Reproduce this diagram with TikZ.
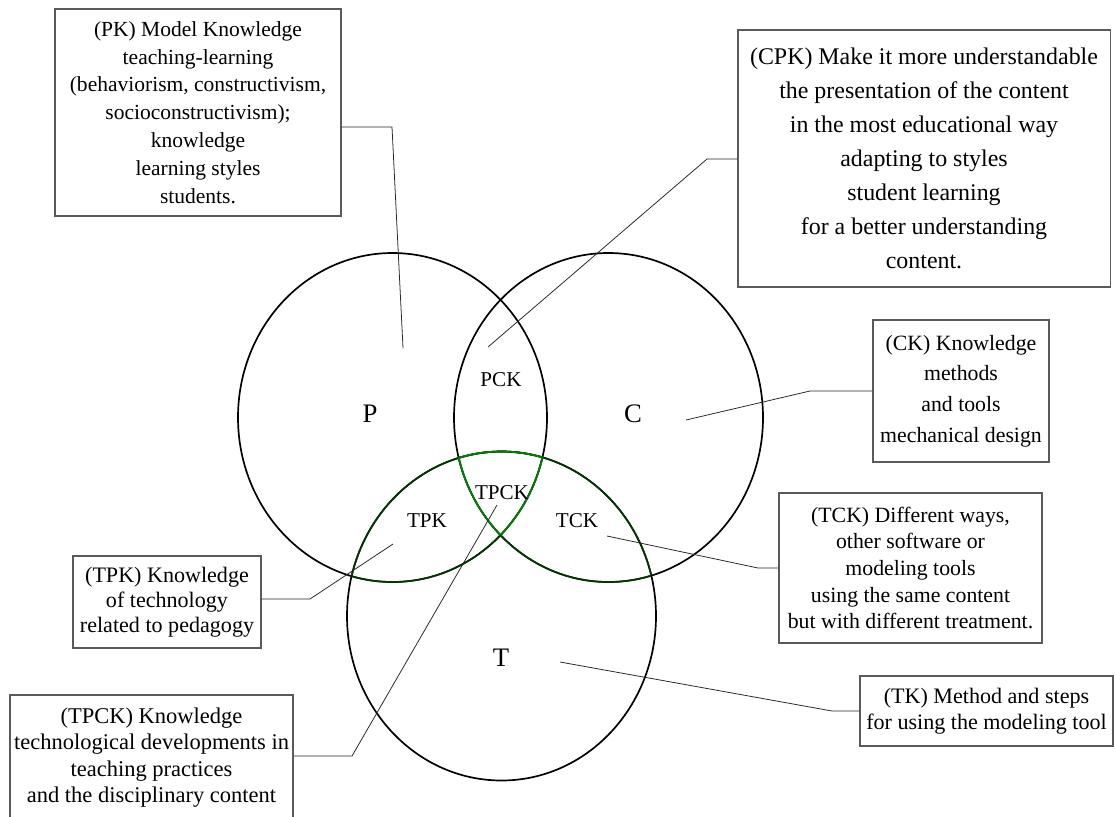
\documentclass[tikz,border=0pt]{standalone}
\usepackage{fontspec}
\setmainfont{Liberation Serif}

\definecolor{boxgray}{RGB}{90,90,90}
\definecolor{tpckgreen}{RGB}{0,128,0}
\definecolor{rimgreen}{RGB}{0,55,0}

\begin{document}
\begin{tikzpicture}[x=0.025cm, y=-0.025cm,
  note/.style={rectangle, draw=boxgray, line width=0.8pt, align=center, inner sep=2pt},
  lead/.style={draw=black!85, line width=0.55pt},
  ring/.style={line width=1.2pt},
  setname/.style={font=\fontsize{19}{22}\selectfont},
  zone/.style={font=\fontsize{15}{18}\selectfont},
]
  \clip (0,0) rectangle (1115,816);

  % Circles
  \coordinate (Pc) at (392.5,417.5);
  \coordinate (Cc) at (608.5,417.5);
  \coordinate (Tc) at (501.5,616);
  \draw[ring] (Pc) ellipse (154.5 and 164.5);
  \draw[ring] (Cc) ellipse (154.5 and 164.5);
  \draw[ring] (Tc) ellipse (154.5 and 164.5);

  % Rims inside T
  \begin{scope}
    \clip (Tc) ellipse (154.5 and 164.5);
    \draw[ring, rimgreen] (Pc) ellipse (154.5 and 164.5);
    \draw[ring, rimgreen] (Cc) ellipse (154.5 and 164.5);
  \end{scope}
  \begin{scope}
    \clip (Pc) ellipse (154.5 and 164.5);
    \draw[ring, rimgreen] (Tc) ellipse (154.5 and 164.5);
  \end{scope}
  \begin{scope}
    \clip (Cc) ellipse (154.5 and 164.5);
    \draw[ring, rimgreen] (Tc) ellipse (154.5 and 164.5);
  \end{scope}

  % TPCK outline
  \begin{scope}
    \clip (Pc) ellipse (154.5 and 164.5);
    \clip (Cc) ellipse (154.5 and 164.5);
    \draw[ring, tpckgreen] (Tc) ellipse (154.5 and 164.5);
  \end{scope}
  \begin{scope}
    \clip (Pc) ellipse (154.5 and 164.5);
    \clip (Tc) ellipse (154.5 and 164.5);
    \draw[ring, tpckgreen] (Cc) ellipse (154.5 and 164.5);
  \end{scope}
  \begin{scope}
    \clip (Cc) ellipse (154.5 and 164.5);
    \clip (Tc) ellipse (154.5 and 164.5);
    \draw[ring, tpckgreen] (Pc) ellipse (154.5 and 164.5);
  \end{scope}

  % Region labels
  \node[setname] (P) at (370,414) {P};
  \node[setname] (C) at (633,414) {C};
  \node[setname] (T) at (501,658) {T};
  \node[zone] (PCK) at (501,380) {PCK};
  \node[zone] (TPCK) at (502,493) {TPCK};
  \node[zone] (TPK) at (427,521) {TPK};
  \node[zone] (TCK) at (577,521) {TCK};

  % Notes
  \node[note, minimum width=7.15cm, minimum height=5.175cm, font=\fontsize{15.3}{19.8}\selectfont] (pk) at (198,112.5)
    {(PK) Model Knowledge\\ teaching-learning\\ (behaviorism, constructivism,\\ socioconstructivism);\\ knowledge\\ learning styles\\ students.};
  \node[note, minimum width=9.3cm, minimum height=6.425cm, font=\fontsize{17}{24.2}\selectfont] (cpk) at (924,158.5)
    {(CPK) Make it more understandable\\ the presentation of the content\\ in the most educational way\\ adapting to styles\\ student learning\\ for a better understanding\\ content.};
  \node[note, minimum width=4.4cm, minimum height=3.55cm, font=\fontsize{15.5}{21.8}\selectfont] (ck) at (961,391)
    {(CK) Knowledge\\ methods\\ and tools\\ mechanical design};
  \node[note, minimum width=6.575cm, minimum height=3.75cm, font=\fontsize{15.5}{19}\selectfont] (tck) at (910.5,568)
    {(TCK) Different ways,\\ other software or\\ modeling tools\\ using the same content\\ but with different treatment.};
  \node[note, minimum width=4.7cm, minimum height=2.3cm, font=\fontsize{15.7}{17.8}\selectfont] (tpk) at (167,602)
    {(TPK) Knowledge\\ of technology\\ related to pedagogy};
  \node[note, minimum width=7.075cm, minimum height=3.125cm, font=\fontsize{16}{18.7}\selectfont] (tpck) at (151.5,757.5)
    {(TPCK) Knowledge\\ technological developments in\\ teaching practices\\ and the disciplinary content};
  \node[note, minimum width=6.325cm, minimum height=1.75cm, font=\fontsize{15.7}{18.5}\selectfont] (tk) at (986.5,711)
    {(TK) Method and steps\\ for using the modeling tool};

  % Leader lines
  \coordinate (pkTip) at (403,348);   \coordinate (pkBend) at (392,127);
  \coordinate (cpkTip) at (488,347);  \coordinate (cpkBend) at (707,159);
  \coordinate (ckTip) at (686,420);   \coordinate (ckBend) at (810,391);
  \coordinate (tckTip) at (607,536);  \coordinate (tckBend) at (758,568);
  \coordinate (tpkTip) at (393,544);  \coordinate (tpkBend) at (310,599);
  \coordinate (tpckTip) at (497,505); \coordinate (tpckBend) at (352,756);
  \coordinate (tkTip) at (560,662);   \coordinate (tkBend) at (832,711);

  \draw[lead] (pk.east |- pkBend) -- (pkBend) -- (pkTip);
  \draw[lead] (cpk.west |- cpkBend) -- (cpkBend) -- (cpkTip);
  \draw[lead] (ck.west |- ckBend) -- (ckBend) -- (ckTip);
  \draw[lead] (tck.west |- tckBend) -- (tckBend) -- (tckTip);
  \draw[lead] (tpk.east |- tpkBend) -- (tpkBend) -- (tpkTip);
  \draw[lead] (tpck.east |- tpckBend) -- (tpckBend) -- (tpckTip);
  \draw[lead] (tk.west |- tkBend) -- (tkBend) -- (tkTip);
\end{tikzpicture}
\end{document}
